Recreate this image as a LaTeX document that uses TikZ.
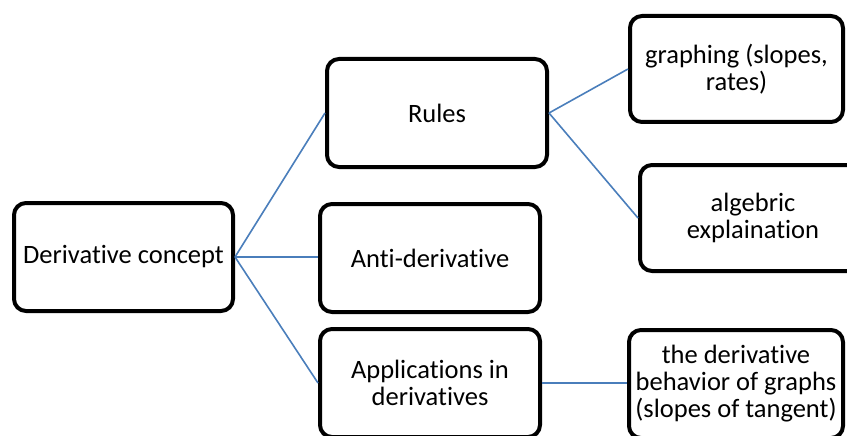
\documentclass[tikz,border=0pt]{standalone}
\usepackage{fontspec}
\setmainfont[RawFeature={-liga;-clig;-calt;-dlig}]{Carlito}
\definecolor{linkblue}{HTML}{4A7EBB}
\begin{document}
\begin{tikzpicture}[x=1pt,y=-1pt,
  box/.style={draw=black, line width=4pt, rounded corners=12pt, fill=white,
    align=center, inner sep=0pt, font=\fontsize{26.5}{27}\selectfont},
  link/.style={draw=linkblue, line width=1.6pt}]
\useasboundingbox (0,0) rectangle (847,436);
\clip (0,0) rectangle (847,436);
\node[box, minimum width=219pt, minimum height=108pt] (dc) at (123.5,257) {Derivative concept};
\node[box, minimum width=220pt, minimum height=108pt] (ru) at (437,113) {Rules};
\node[box, minimum width=220pt, minimum height=108pt] (ad) at (430,258) {Anti-derivative};
\node[box, minimum width=220pt, minimum height=108pt] (ap) at (430,383) {Applications in\\derivatives};
\node[box, minimum width=213pt, minimum height=106pt] (gr) at (736.5,69) {graphing (slopes,\\rates)};
\node[box, minimum width=226pt, minimum height=106pt] (al) at (753,218) {algebric\\explaination};
\node[box, minimum width=214pt, minimum height=108pt] (bh) at (736,384) {the derivative\\behavior of graphs\\(slopes of tangent)};
\draw[link] (dc.east) -- (ru.west);
\draw[link] (dc.east) -- (ad.west |- dc.east);
\draw[link] (dc.east) -- (ap.west);
\draw[link] (ru.east) -- (gr.west);
\draw[link] (ru.east) -- (al.west);
\draw[link] (ap.east) -- (bh.west |- ap.east);
\end{tikzpicture}
\end{document}
